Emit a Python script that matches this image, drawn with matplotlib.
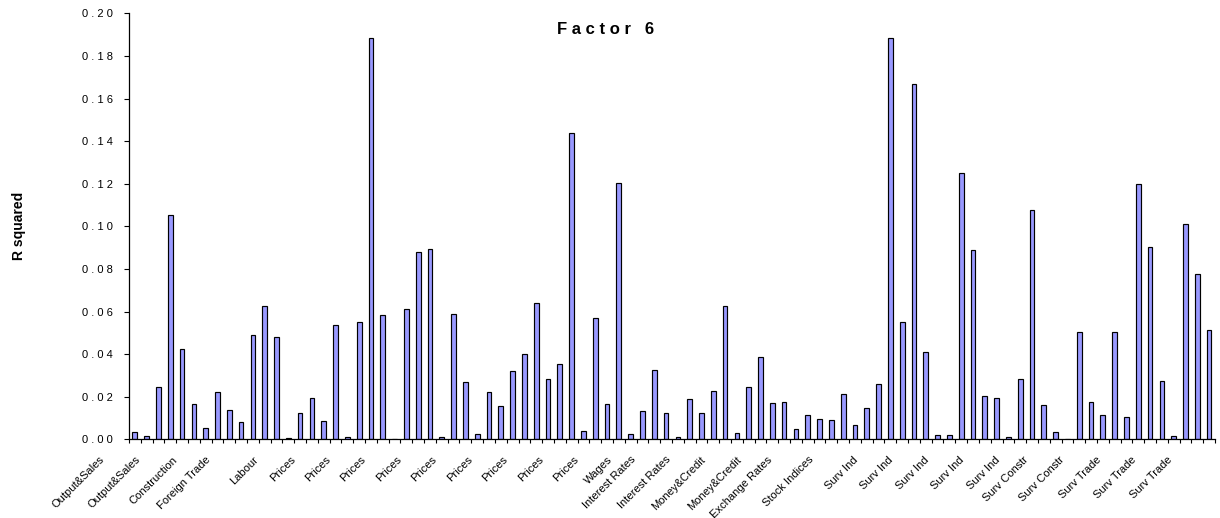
import matplotlib
matplotlib.use('Agg')
import matplotlib.pyplot as plt
import numpy as np
from matplotlib.font_manager import FontProperties
from matplotlib.ticker import FuncFormatter
from matplotlib.transforms import offset_copy

plt.rcParams['font.family'] = ['Liberation Sans', 'DejaVu Sans']

# R squared of each series on factor 6, in series order
r_squared = [
    0.0033, 0.0017, 0.0244, 0.1053, 0.0424, 0.0167, 0.0055, 0.0221, 0.0136, 0.0080,
    0.0488, 0.0627, 0.0479, 0.0005, 0.0125, 0.0194, 0.0086, 0.0537, 0.0009, 0.0549,
    0.1886, 0.0584, 0.0003, 0.0612, 0.0881, 0.0892, 0.0012, 0.0588, 0.0268, 0.0025,
    0.0224, 0.0158, 0.0319, 0.0402, 0.0641, 0.0285, 0.0355, 0.1440, 0.0040, 0.0569,
    0.0164, 0.1202, 0.0023, 0.0134, 0.0327, 0.0125, 0.0012, 0.0189, 0.0122, 0.0228,
    0.0627, 0.0030, 0.0244, 0.0388, 0.0172, 0.0175, 0.0048, 0.0113, 0.0095, 0.0091,
    0.0214, 0.0069, 0.0146, 0.0260, 0.1886, 0.0552, 0.1670, 0.0411, 0.0019, 0.0019,
    0.1250, 0.0887, 0.0205, 0.0195, 0.0012, 0.0282, 0.1077, 0.0163, 0.0036, 0.0,
    0.0505, 0.0174, 0.0116, 0.0502, 0.0103, 0.1197, 0.0903, 0.0272, 0.0017, 0.1009,
    0.0777, 0.0512,
]

# only every third series gets a group label
label_step = 3
group_labels = [
    'Output&Sales', 'Output&Sales', 'Construction', 'Foreign Trade', 'Labour',
    'Prices', 'Prices', 'Prices', 'Prices', 'Prices', 'Prices', 'Prices', 'Prices',
    'Prices', 'Wages', 'Interest Rates', 'Interest Rates', 'Money&Credit',
    'Money&Credit', 'Exchange Rates', 'Stock Indices', 'Surv Ind', 'Surv Ind',
    'Surv Ind', 'Surv Ind', 'Surv Ind', 'Surv Constr', 'Surv Constr',
    'Surv Trade', 'Surv Trade', 'Surv Trade',
]

y_ticks = [0.00, 0.02, 0.04, 0.06, 0.08, 0.10, 0.12, 0.14, 0.16, 0.18, 0.20]

fig = plt.figure(figsize=(12.2, 5.18), dpi=100)
ax = fig.add_axes([0.1057, 0.1519, 0.8902, 0.8224])

n = len(r_squared)
x = np.arange(n)
ax.bar(x, r_squared, width=0.4, color='#9999ff', edgecolor='black', linewidth=0.85)

ax.set_xlim(-0.5, n - 0.5)
ax.set_ylim(0, 0.2)
ax.set_yticks(y_ticks)
ax.yaxis.set_major_formatter(FuncFormatter(lambda v, pos: ' '.join(f'{v:.2f}')))
ax.set_xticks(np.arange(n + 1) - 0.5)
ax.set_xticklabels([])

for side in ('top', 'right'):
    ax.spines[side].set_visible(False)
for side in ('left', 'bottom'):
    ax.spines[side].set_linewidth(0.9)
ax.tick_params(axis='x', direction='out', length=2.6, width=0.8)
ax.tick_params(axis='y', direction='out', length=3.6, width=0.8, pad=8,
               labelsize=8, colors='black')

# rotated group labels, long ones pushed further left
renderer = fig.canvas.get_renderer()
label_font = FontProperties(family=['Liberation Sans', 'DejaVu Sans'], size=8)
for j, name in enumerate(group_labels):
    w, h, d = renderer.get_text_width_height_descent(name, label_font, ismath=False)
    shift = offset_copy(ax.get_xaxis_transform(), fig=fig,
                        x=-7.1 - 0.363 * w, y=-18.7, units='dots')
    ax.text(j * label_step, 0, name, transform=shift, rotation=45,
            rotation_mode='anchor', ha='right', va='center',
            fontproperties=label_font)

fig.text(0.496, 0.943, 'F a c t o r   6', fontsize=12, fontweight='bold',
         ha='center', va='center')
fig.text(0.0157, 0.5637, 'R squared', rotation=90, fontsize=10,
         fontweight='bold', ha='center', va='center')

fig.savefig('out.png', dpi=100)
